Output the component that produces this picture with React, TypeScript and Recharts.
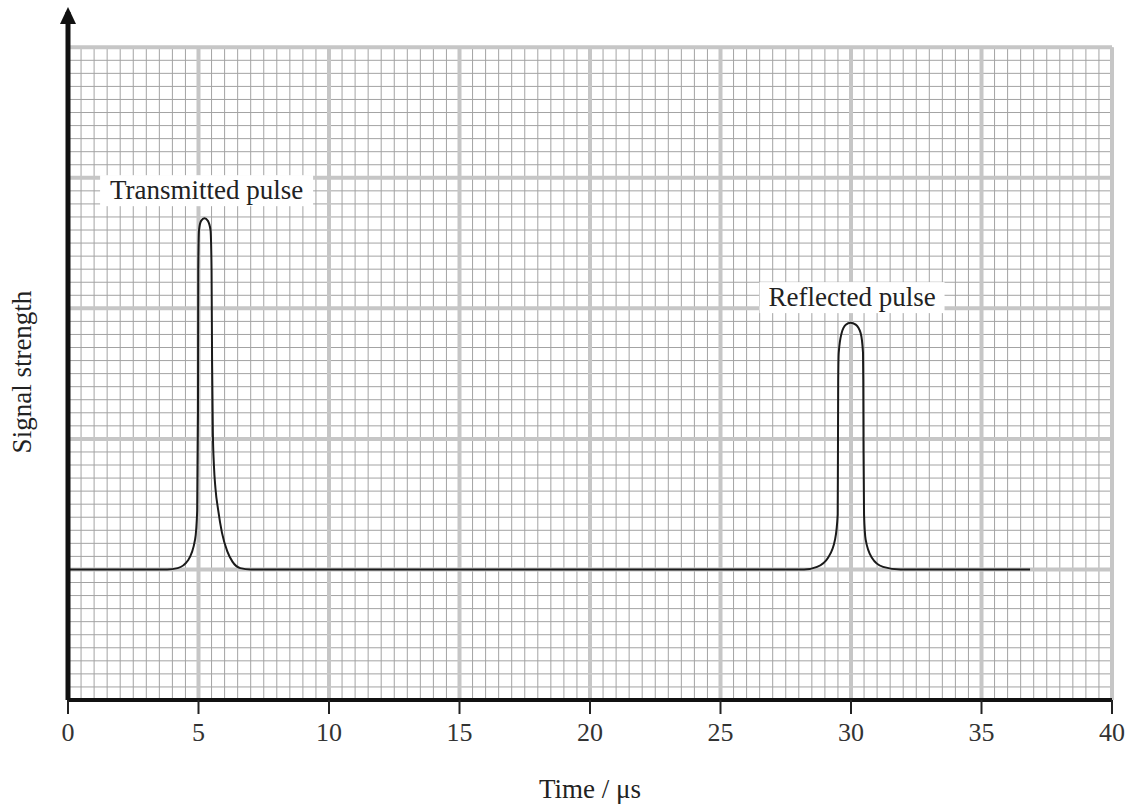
import React from 'react';
import { LineChart, Line, XAxis, YAxis, ReferenceLine, ReferenceDot } from 'recharts';

// signal trace (time in µs, signal in grid units)
const pulseTime = [
  0, 3.8, 4.2, 4.6, 4.87, 4.95, 4.98, 4.99, 5.02, 5.1, 5.23, 5.36, 5.46, 5.5, 5.52, 5.55, 5.59, 5.65, 5.75, 5.9, 6.1,
  6.3, 6.6, 7.0,
  28.2, 28.7, 29.12, 29.39, 29.49, 29.5, 29.51, 29.53, 29.64, 29.8, 29.98, 30.18, 30.37, 30.46, 30.47, 30.48, 30.5,
  30.56, 30.8, 31.23, 31.9, 36.86,
];
const pulseSignal = [
  1.0, 1.0, 1.01, 1.07, 1.23, 1.45, 2.2, 3.3, 3.6, 3.67, 3.69, 3.67, 3.6, 3.3, 2.6, 2.05, 1.8, 1.62, 1.46, 1.28, 1.14,
  1.06, 1.01, 1.0,
  1.0, 1.02, 1.09, 1.23, 1.42, 1.9, 2.45, 2.66, 2.81, 2.875, 2.89, 2.875, 2.81, 2.66, 2.45, 1.9, 1.42,
  1.23, 1.09, 1.02, 1.0, 1.0,
];

const xTicks = [0, 5, 10, 15, 20, 25, 30, 35, 40];
const yMajor = [1, 2, 3, 4, 5];
const xMinor = Array.from({ length: 80 }, (_, i) => (i + 1) / 2);
const yMinor = Array.from({ length: 50 }, (_, i) => (i + 1) / 10);

const labels = [
  { text: 'Transmitted pulse', t: 5.31, s: 3.905, w: 213 },
  { text: 'Reflected pulse', t: 30.04, s: 3.086, w: 185 },
];

const data = pulseTime.map((t, i) => ({ t, s: pulseSignal[i] }));

const serif = '"Liberation Serif", "DejaVu Serif", serif';
const minorColor = '#a3a3a3';
const majorColor = '#c6c6c6';

export default function App() {
  return (
    <div style={{ position: 'absolute', left: 0, top: 0, width: 1131, height: 806, background: '#fff' }}>
      <LineChart width={1131} height={806} data={data} margin={{ top: 12, right: 19, bottom: 0, left: 0 }}>
        <XAxis
          dataKey="t"
          type="number"
          domain={[0, 40]}
          ticks={xTicks}
          interval={0}
          allowDataOverflow
          height={106}
          tickSize={14}
          tickMargin={9}
          axisLine={{ stroke: '#111', strokeWidth: 4 }}
          tickLine={{ stroke: '#222', strokeWidth: 2 }}
          tick={{ fill: '#333', fontSize: 26, fontFamily: serif }}
          label={{ value: 'Time / μs', position: 'insideBottom', offset: 8, fill: '#222', fontSize: 27, fontFamily: serif }}
        />
        <YAxis
          type="number"
          domain={[0, 5.27]}
          allowDataOverflow
          width={68}
          tick={false}
          tickLine={false}
          axisLine={{ stroke: '#111', strokeWidth: 5 }}
          label={({ viewBox }: any) => (
            <text
              x={22}
              y={viewBox.y + 360}
              transform={`rotate(-90 22 ${viewBox.y + 360})`}
              textAnchor="middle"
              dominantBaseline="central"
              fill="#222"
              fontSize={27}
              fontFamily={serif}
            >
              Signal strength
            </text>
          )}
        />
        {yMinor.map((v) => (
          <ReferenceLine key={'hm' + v} y={v} stroke={minorColor} strokeWidth={1} />
        ))}
        {xMinor.map((v) => (
          <ReferenceLine key={'vm' + v} segment={[{ x: v, y: 0 }, { x: v, y: 5 }]} stroke={minorColor} strokeWidth={1} />
        ))}
        {yMajor.map((v) => (
          <ReferenceLine key={'hM' + v} y={v} stroke={majorColor} strokeWidth={4} />
        ))}
        {xTicks.slice(1).map((v) => (
          <ReferenceLine key={'vM' + v} segment={[{ x: v, y: 0 }, { x: v, y: 5 }]} stroke={majorColor} strokeWidth={4} />
        ))}
        <Line
          type="monotone"
          dataKey="s"
          stroke="#1a1a1a"
          strokeWidth={2}
          dot={false}
          isAnimationActive={false}
        />
        {labels.map((l) => (
          <ReferenceDot
            key={l.text}
            x={l.t}
            y={l.s}
            r={0}
            shape={({ cx, cy }: any) => (
              <g>
                <rect x={cx - l.w / 2} y={cy - 15} width={l.w} height={31} fill="#fff" />
                <text x={cx} y={cy} textAnchor="middle" dominantBaseline="central" fill="#222" fontSize={27} fontFamily={serif}>
                  {l.text}
                </text>
              </g>
            )}
          />
        ))}
        <ReferenceDot
          x={0}
          y={5.27}
          r={0}
          ifOverflow="visible"
          shape={({ cx, cy }: any) => (
            <polygon points={`${cx},${cy - 5} ${cx - 8},${cy + 12} ${cx + 8},${cy + 12}`} fill="#111" />
          )}
        />
      </LineChart>
    </div>
  );
}
